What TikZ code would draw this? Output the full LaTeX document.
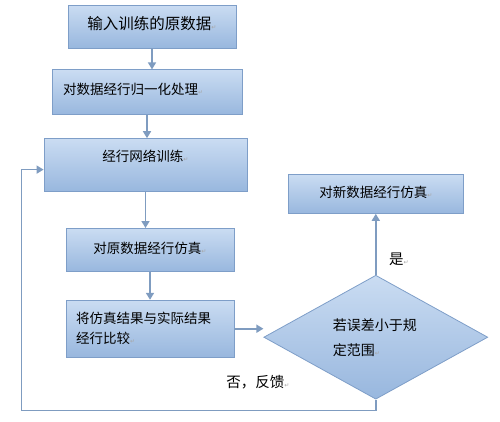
\documentclass[tikz,border=0pt]{standalone}
\usepackage{fontspec}
\setmainfont{Noto Sans CJK SC}
\newfontfamily\markfont{DejaVu Sans}
\usepackage{tikz}
\usetikzlibrary{positioning,shapes.geometric,arrows.meta}
\definecolor{boxtop}{HTML}{CADCF2}
\definecolor{boxbot}{HTML}{98B7DE}
\definecolor{boxline}{HTML}{7E9EC8}
\definecolor{flowline}{HTML}{7F9CC0}
\newcommand{\pmark}{{\markfont\fontsize{6pt}{6pt}\selectfont\textcolor{black!35}{↵}}}

\begin{document}
\begin{tikzpicture}[
    box/.style={draw=boxline,line width=0.8pt,top color=boxtop,bottom color=boxbot,rectangle,inner sep=0pt,text=black,font=\fontsize{13.5pt}{20pt}\selectfont},
    flow/.style={draw=flowline,line width=1.6pt,-{Triangle[width=8pt,length=7pt]}},
    lbl/.style={text=black,font=\fontsize{14.5pt}{16pt}\selectfont}
]
    \useasboundingbox (0,0) rectangle (500pt,-421pt);

    \node[box,minimum width=168pt,minimum height=43pt,text depth=7pt,font=\fontsize{15.5pt}{18pt}\selectfont] (in) at (152pt,-26.5pt) {输入训练的原数据\pmark};
    \node[box,minimum width=190pt,minimum height=45pt,text width=168pt,inner xsep=11pt,align=left,text depth=6pt,below=21pt of in,xshift=-5pt] (norm) {对数据经行归一化处理\pmark};
    \node[box,minimum width=203pt,minimum height=53pt,text depth=19pt,below=23pt of norm,xshift=-1.5pt] (train) {经行网络训练\pmark};
    \node[box,minimum width=168pt,minimum height=43pt,text depth=5pt,below=36pt of train,xshift=4.5pt] (sim) {对原数据经行仿真\pmark};
    \node[box,minimum width=168pt,minimum height=57pt,text width=148pt,inner xsep=10pt,align=left,below=28pt of sim] (cmp) {将仿真结果与实际结果\\经行比较\pmark};

    \node[box,diamond,minimum width=224pt,minimum height=116pt,text width=86pt,align=left,font=\fontsize{14pt}{25pt}\selectfont,right=29pt of cmp,yshift=-8.5pt] (dec) {若误差小于规\\定范围\pmark};
    \node[box,minimum width=175pt,minimum height=39pt,text depth=5pt,above=61pt of dec] (new) {对新数据经行仿真\pmark};

    \node[lbl] (yes) at ([xshift=23pt,yshift=16pt]dec.north) {是\pmark};
    \node[lbl] (no) at ([xshift=108pt,yshift=-25pt]cmp.south) {否，反馈\pmark};
    \coordinate (fb) at ([xshift=-22pt,yshift=-4.5pt]train.west);

    % arrows
    \draw[flow] (in.south) -- (in.south |- norm.north);
    \draw[flow] (norm.south) -- (norm.south |- train.north);
    \draw[flow] (train.south) -- (train.south |- sim.north);
    \draw[flow] (sim.south) -- (sim.south |- cmp.north);
    \draw[flow] (cmp.east) -- (cmp.east -| dec.west);
    \draw[flow] (dec.north) -- (new.south);
    \draw[flow] (dec.south) -- ++(0,-11pt) -| (fb) -- ([yshift=-4.5pt]train.west);

\end{tikzpicture}
\end{document}
